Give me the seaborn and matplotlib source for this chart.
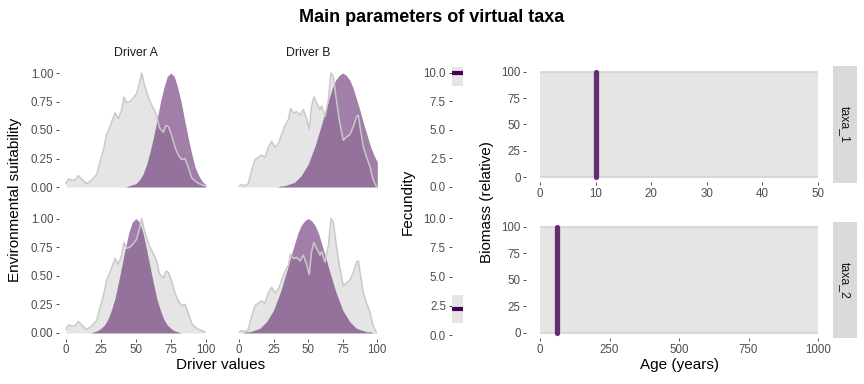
import numpy as np
import pandas as pd
import seaborn as sns
import matplotlib
matplotlib.use("Agg")
from matplotlib import pyplot as plt

# driver values (density of the environmental drivers, scaled to 0-1)
driver_a_x = [0, 1.7, 4.1, 6.4, 8.8, 11.2, 14.8, 18.4, 22, 24.3, 26.7, 29.1, 31.5, 35.1, 37.5,
              39.9, 41.5, 43.4, 45.8, 48.2, 50.6, 52.5, 54.2, 55.8, 57.8, 60.1, 63, 64.9, 66.8,
              69.7, 71.5, 73.3, 75.7, 78, 80.4, 82.8, 85.2, 87.6, 90, 93.6, 97.1, 99.5]
driver_a_y = [0.03, 0.07, 0.06, 0.06, 0.10, 0.07, 0.03, 0.06, 0.11, 0.22, 0.32, 0.46, 0.53, 0.65, 0.60,
              0.68, 0.79, 0.74, 0.75, 0.78, 0.82, 0.91, 1.00, 0.91, 0.83, 0.75, 0.68, 0.63, 0.52,
              0.48, 0.54, 0.53, 0.45, 0.35, 0.28, 0.24, 0.25, 0.17, 0.08, 0.04, 0.02, 0.01]
driver_b_x = [0, 1.9, 4.3, 6.7, 9.2, 11.6, 14, 16.4, 18.8, 21.2, 23.6, 26, 28.4, 30.8, 33.3, 35.7,
              37.3, 39.3, 41.7, 44.1, 46.5, 48.9, 50.8, 52.5, 54.2, 56.1, 58.6, 59.8, 62.2, 64.6,
              66.5, 68.2, 70.1, 72.5, 75.4, 77.8, 80.2, 82.7, 85.1, 86.3, 87.5, 89.9, 92.3, 94.7,
              97.1, 99.5]
driver_b_y = [0.01, 0.02, 0.01, 0.03, 0.15, 0.24, 0.26, 0.28, 0.26, 0.35, 0.40, 0.35, 0.38, 0.46, 0.54, 0.59,
              0.69, 0.65, 0.66, 0.63, 0.68, 0.60, 0.51, 0.71, 0.79, 0.74, 0.68, 0.71, 0.62, 0.76,
              1.00, 0.97, 0.79, 0.59, 0.41, 0.44, 0.46, 0.53, 0.62, 0.63, 0.53, 0.35, 0.26, 0.18,
              0.06, 0.00]

# niche suitability curves, read on a 2.5 step grid from 0 to 100
niche_x = np.linspace(0, 100, 41)
taxa1_niche_a = [0] * 17 + [0.00, 0.01, 0.02, 0.03, 0.06, 0.11, 0.19, 0.30, 0.43, 0.58, 0.74, 0.87,
                            0.97, 1.00, 0.97, 0.87, 0.74, 0.58, 0.43, 0.29, 0.17, 0.10, 0.05, 0.02]
taxa1_niche_b = [0] * 10 + [0.00, 0.00, 0.01, 0.01, 0.02, 0.03, 0.04, 0.07, 0.10, 0.15, 0.20, 0.28,
                            0.36, 0.46, 0.56, 0.67, 0.77, 0.87, 0.94, 0.98, 1.00, 0.98, 0.94, 0.87,
                            0.77, 0.67, 0.56, 0.46, 0.36, 0.28, 0.22]
taxa2_niche_a = [0] * 7 + [0.00, 0.01, 0.02, 0.04, 0.07, 0.12, 0.20, 0.30, 0.44, 0.59, 0.74, 0.88,
                           0.97, 1.00, 0.97, 0.88, 0.74, 0.59, 0.44, 0.30, 0.20, 0.12, 0.07, 0.04,
                           0.02, 0.01, 0.00] + [0] * 7
taxa2_niche_b = [0.00, 0.00, 0.01, 0.01, 0.02, 0.03, 0.04, 0.07, 0.10, 0.15, 0.20, 0.28, 0.36, 0.46,
                 0.56, 0.67, 0.77, 0.87, 0.94, 0.98, 1.00, 0.98, 0.94, 0.87, 0.77, 0.67, 0.56, 0.46,
                 0.36, 0.28, 0.20, 0.15, 0.10, 0.07, 0.04, 0.03, 0.02, 0.01, 0.01, 0.00, 0.00]

taxa = ["taxa_1", "taxa_2"]
fecundity = [10, 2.25]
max_age = [50, 1000]
growth_age = [10, 60]
biomass_range = [0, 100]

W, H = 864, 384
PURPLE = "#440154"

sns.set_theme(style="white")
plt.rcParams["font.family"] = ["Liberation Sans", "DejaVu Sans"]

fig = plt.figure(figsize=(W / 100, H / 100), dpi=100)


def box(x0, y0, x1, y1):
    return [x0 / W, 1 - y1 / H, (x1 - x0) / W, (y1 - y0) / H]


def style(ax):
    for s in ax.spines.values():
        s.set_visible(False)
    ax.set_facecolor("none")
    ax.tick_params(axis="both", length=2.5, width=0.6, color="#333333",
                   labelsize=8.3, labelcolor="#4d4d4d", pad=1.5,
                   bottom=True, left=True)


# ---- left: niche vs driver density ----
left_boxes = [[(59, 67.3, 212.7, 192.7), (232.1, 67.3, 384.2, 192.7)],
              [(59, 212.8, 212.7, 338.7), (232.1, 212.8, 384.2, 338.7)]]
niches = [[taxa1_niche_a, taxa1_niche_b], [taxa2_niche_a, taxa2_niche_b]]
drivers = [(driver_a_x, driver_a_y), (driver_b_x, driver_b_y)]

for r in range(2):
    for c in range(2):
        ax = fig.add_axes(box(*left_boxes[r][c]))
        dx, dy = drivers[c]
        ax.fill_between(dx, 0, dy, color="#e5e5e5", lw=0)
        sns.lineplot(x=dx, y=dy, ax=ax, color="#c9c9c9", lw=1.1)
        ax.fill_between(niche_x, 0, niches[r][c], color=PURPLE, alpha=0.5, lw=0)
        ax.set_xlim(-5, 105)
        ax.set_ylim(-0.05, 1.05)
        style(ax)
        ax.set_xticks([0, 25, 50, 75, 100])
        ax.set_yticks([0, 0.25, 0.5, 0.75, 1.0])
        ax.set_yticklabels(["0.00", "0.25", "0.50", "0.75", "1.00"])
        if r == 0:
            ax.tick_params(axis="x", bottom=False, labelbottom=False)
        if c == 1:
            ax.tick_params(axis="y", left=False, labelleft=False)

fig.text(136 / W, 1 - 53 / H, "Driver A", ha="center", va="center", fontsize=8.8, color="#1a1a1a")
fig.text(308 / W, 1 - 53 / H, "Driver B", ha="center", va="center", fontsize=8.8, color="#1a1a1a")
fig.text(15 / W, 1 - 200 / H, "Environmental suitability", rotation=90, ha="center",
         va="center", fontsize=11, color="black")
fig.text(221 / W, 1 - 365 / H, "Driver values", ha="center", va="center", fontsize=11,
         color="black")

# ---- middle: fecundity ----
fec_boxes = [(451.5, 67, 463.5, 192.7), (451.5, 212.2, 463.5, 340.9)]
for i in range(2):
    ax = fig.add_axes(box(*fec_boxes[i]))
    ax.bar(0, 2.4, bottom=fecundity[i] - 1.2, width=1, color="#e5e5e5", lw=0)
    ax.hlines(fecundity[i], -0.5, 0.5, color=PURPLE, lw=3)
    ax.set_xlim(-0.5, 0.5)
    ax.set_ylim(-0.5, 10.5)
    style(ax)
    ax.set_xticks([])
    ax.set_yticks([0, 2.5, 5, 7.5, 10])
    ax.set_yticklabels(["0.0", "2.5", "5.0", "7.5", "10.0"])

fig.text(408 / W, 1 - 202 / H, "Fecundity", rotation=90, ha="center", va="center", fontsize=11,
         color="black")

# ---- right: biomass vs age ----
bio_boxes = [(526.1, 66.4, 831.9, 182.3), (526.1, 221.4, 831.9, 338.3)]
strip_boxes = [(833, 66, 857, 183), (833, 222, 857, 338)]
xticks = [[0, 10, 20, 30, 40, 50], [0, 250, 500, 750, 1000]]
for i in range(2):
    ax = fig.add_axes(box(*bio_boxes[i]))
    ax.fill_between([0, max_age[i]], biomass_range[0], biomass_range[1], color="#e5e5e5", lw=0)
    ax.hlines(biomass_range, 0, max_age[i], color="#d4d4d4", lw=1.2)
    line = pd.DataFrame({"age": [growth_age[i], growth_age[i]], "biomass": biomass_range})
    sns.lineplot(data=line, x="age", y="biomass", ax=ax, estimator=None, sort=False,
                 color=PURPLE, alpha=0.8, lw=3.8, solid_capstyle="round")
    pad = max_age[i] * 0.05
    ax.set_xlim(-pad, max_age[i] + pad)
    ax.set_ylim(-5, 105)
    style(ax)
    ax.set_xticks(xticks[i])
    ax.set_yticks([0, 25, 50, 75, 100])
    ax.set_xlabel("")
    ax.set_ylabel("")

    sax = fig.add_axes(box(*strip_boxes[i]))
    sax.set_facecolor("#d9d9d9")
    for s in sax.spines.values():
        s.set_visible(False)
    sax.set_xticks([])
    sax.set_yticks([])
    sax.text(0.5, 0.5, taxa[i], rotation=270, ha="center", va="center",
             fontsize=8.8, color="#1a1a1a", transform=sax.transAxes)

fig.text(487 / W, 1 - 202 / H, "Biomass (relative)", rotation=90, ha="center", va="center",
         fontsize=11, color="black")
fig.text(679 / W, 1 - 365 / H, "Age (years)", ha="center", va="center", fontsize=11,
         color="black")

fig.text(432 / W, 1 - 18 / H, "Main parameters of virtual taxa", ha="center", va="center",
         fontsize=13, fontweight="bold", color="black")

fig.savefig("out.png", dpi=100)
